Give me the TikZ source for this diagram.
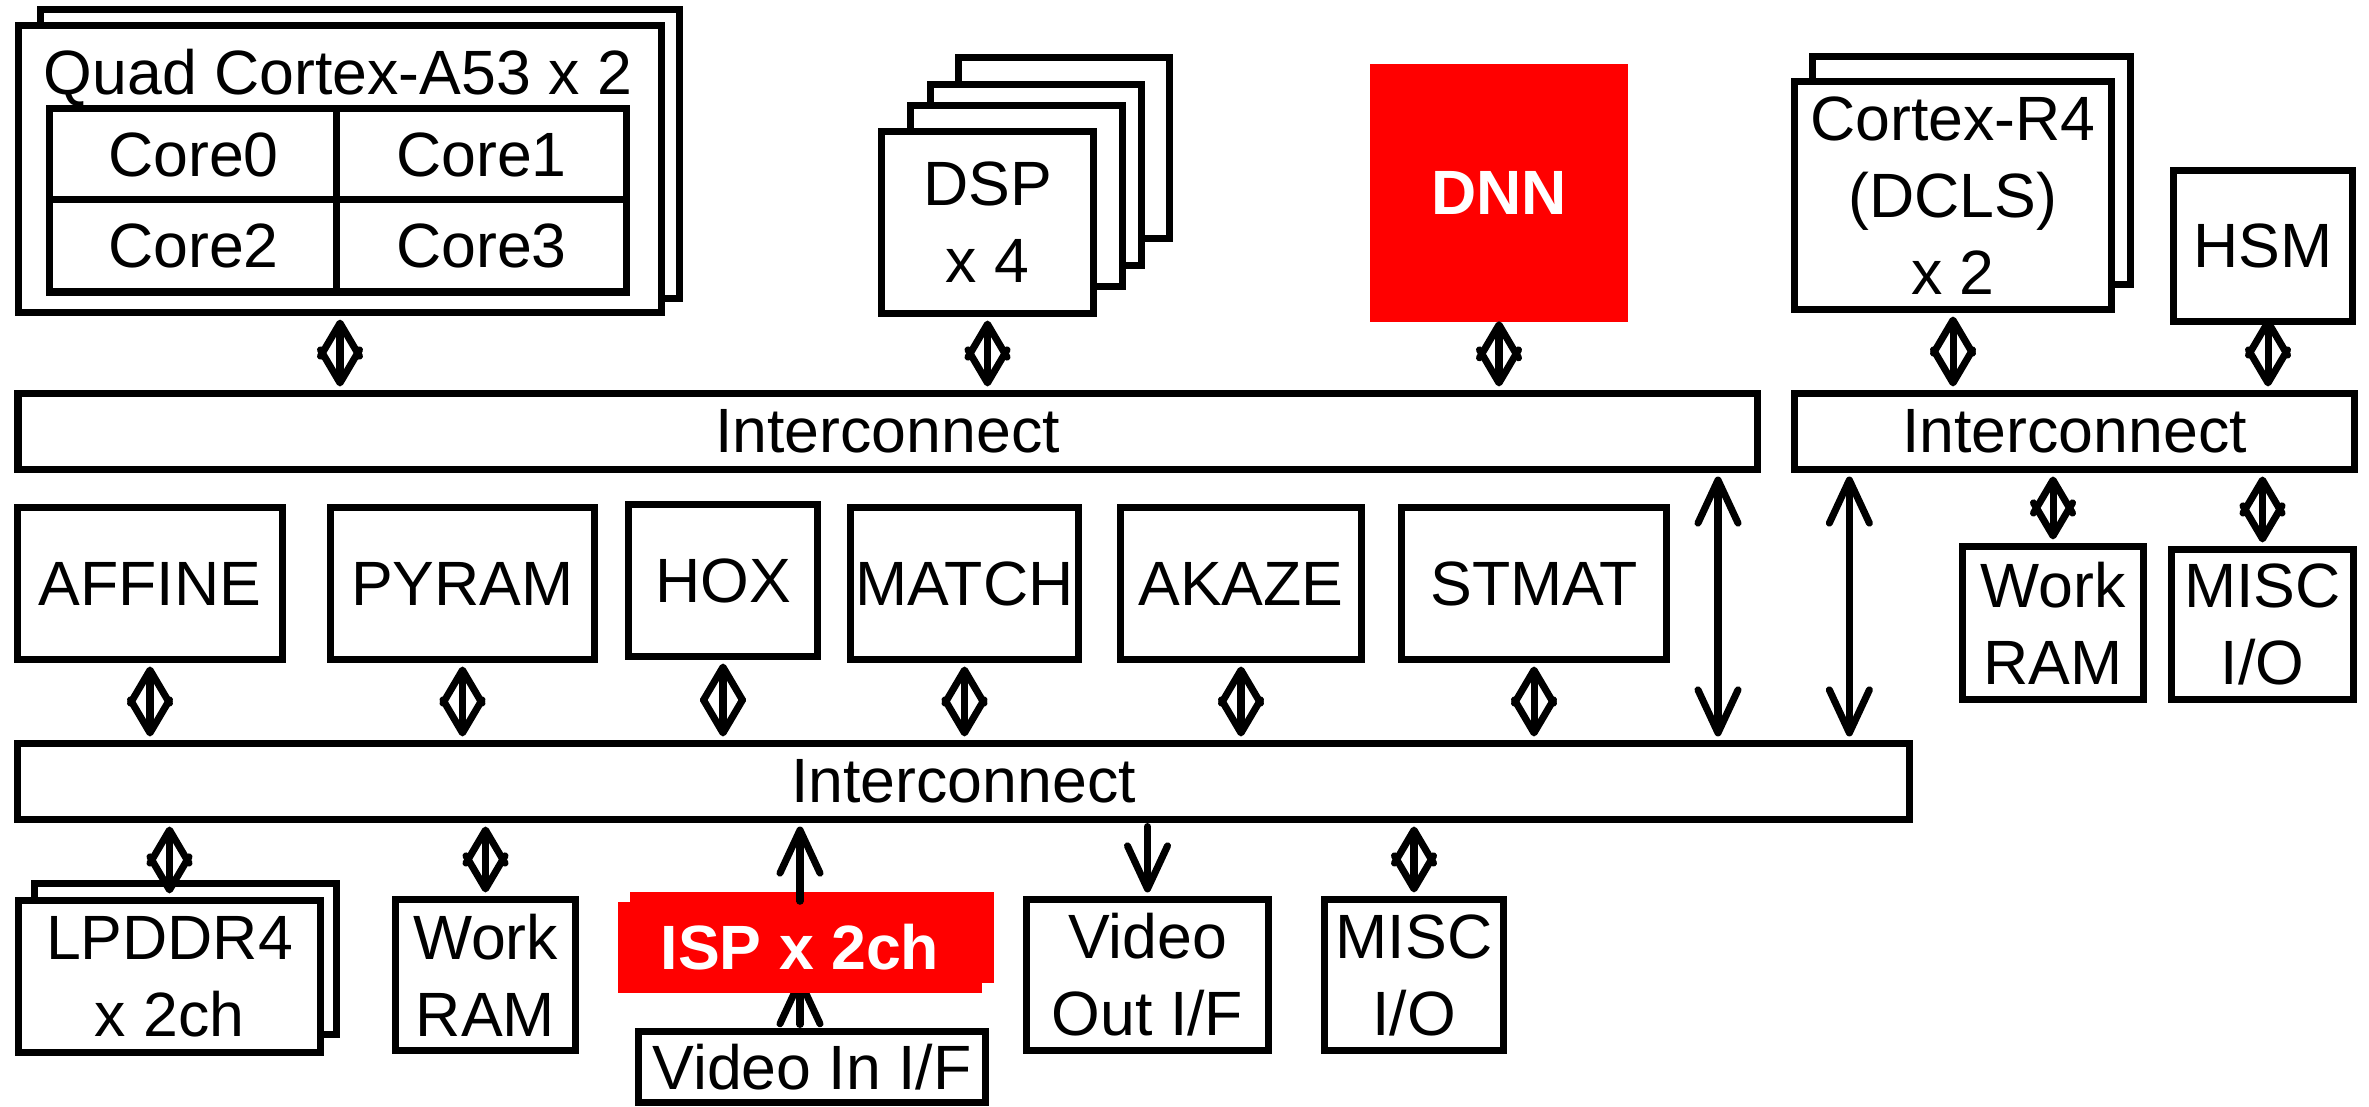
\documentclass[tikz,border=0pt]{standalone}
\usepackage{fontspec}
\setmainfont{Liberation Sans}
\usetikzlibrary{arrows.meta,calc}
\definecolor{accel}{RGB}{255,0,0}
\pgfdeclarelayer{under}
\pgfsetlayers{under,main}

% outlined block from its outer edges (x1,y1)-(x2,y2), in 0.01cm units
\newcommand\blk[6]{%
  \pgfmathsetmacro\bw{(#4-#2-7)/100}%
  \pgfmathsetmacro\bh{(#5-#3-7)/100}%
  \pgfmathsetmacro\bx{(#2+#4)/2}%
  \pgfmathsetmacro\by{(#3+#5)/2}%
  \node[box,minimum width=\bw cm,minimum height=\bh cm] (#1) at (\bx,\by) {#6};}
% solid red accelerator block
\newcommand\fillblk[6]{%
  \pgfmathsetmacro\bw{(#4-#2)/100}%
  \pgfmathsetmacro\bh{(#5-#3)/100}%
  \pgfmathsetmacro\bx{(#2+#4)/2}%
  \pgfmathsetmacro\by{(#3+#5)/2}%
  \node[hot,minimum width=\bw cm,minimum height=\bh cm] (#1) at (\bx,\by) {#6};}

\tikzset{
  dia/.tip={Straight Barb[length=0.33cm,width=0.39cm,round]},
  lng/.tip={Straight Barb[length=0.43cm,width=0.40cm,round]},
  lbl/.style={font=\fontsize{17.8}{21.9}\selectfont},
  box/.style={lbl, draw, line width=2pt, fill=white, inner sep=0pt, align=center},
  hot/.style={fill=accel, draw=none, inner sep=0pt, text=white,
              font=\fontsize{17.8}{21.9}\selectfont\bfseries},
  link/.style={line width=2pt, line cap=round, shorten <=1pt, shorten >=1pt},
  bus/.style={link, dia-dia},
  both/.style={link, lng-lng},
  one/.style={link, -lng},
}

\begin{document}
\begin{tikzpicture}[x=0.01cm, y=-0.01cm]
\useasboundingbox (0,0) rectangle (2369,1107);

% ---- application cores
\blk{apB}{37}{6}{683}{302}{}
\blk{ap}{15}{22}{665}{316}{}
\node[lbl, anchor=base] (apT) at (338,95) {Quad Cortex-A53 x 2};
\blk{c0}{46.5}{105.5}{340.5}{203.5}{Core0}
\blk{c1}{333.5}{105.5}{629.5}{203.5}{Core1}
\blk{c2}{46.5}{196.5}{340.5}{295.5}{Core2}
\blk{c3}{333.5}{196.5}{629.5}{295.5}{Core3}

% ---- DSP stack
\blk{dsp4}{955}{54}{1173}{242}{}
\blk{dsp3}{927}{81}{1145}{269}{}
\blk{dsp2}{907}{102}{1126}{290}{}
\blk{dsp}{878}{128}{1097}{317}{DSP\\x 4}

% ---- DNN accelerator
\fillblk{dnn}{1370}{64}{1628}{322}{DNN}

% ---- safety island
\blk{r4b}{1809}{53}{2134}{288}{}
\blk{r4}{1791}{78}{2115}{313}{Cortex-R4\\(DCLS)\\x 2}
\blk{hsm}{2170}{167}{2356}{325}{HSM}

% ---- interconnects
\blk{ic1}{15}{390}{1760}{473}{Interconnect}
\blk{ic2}{1791}{390}{2358}{473}{Interconnect}
\blk{ic3}{15}{740}{1912}{823}{Interconnect}

% ---- vision engines
\blk{affine}{14}{504}{286}{663}{AFFINE}
\blk{pyram}{327}{504}{598}{663}{PYRAM}
\blk{hox}{625}{501}{821}{660}{HOX}
\blk{match}{847}{504}{1082}{663}{MATCH}
\blk{akaze}{1117}{504}{1365}{663}{AKAZE}
\blk{stmat}{1398}{504}{1670}{663}{STMAT}

% ---- safety island peripherals
\blk{wram2}{1959}{543}{2147}{703}{Work\\RAM}
\blk{misc2}{2168}{546}{2357}{703}{MISC\\I/O}

% ---- memory and I/O
\blk{ddrB}{31}{880}{340}{1038}{}
\blk{ddr}{15}{897}{324}{1056}{LPDDR4\\x 2ch}
\blk{wram}{392}{896}{579}{1054}{Work\\RAM}
\fillblk{ispB}{630}{892}{994}{983}{}
\fillblk{isp}{618}{902}{982}{993}{ISP x 2ch}
\blk{vin}{635}{1028}{989}{1106}{Video In I/F}
\blk{vout}{1023}{896}{1272}{1054}{Video\\Out I/F}
\blk{misc}{1321}{896}{1507}{1054}{MISC\\I/O}

% ---- connections
\draw[bus] (ap.south) -- (ap.south |- ic1.north);
\draw[bus] (dsp.south) -- (dsp.south |- ic1.north);
\draw[bus] ([yshift=0.05cm]dnn.south) -- (dnn.south |- ic1.north);
\draw[bus] (r4.south) -- (r4.south |- ic2.north);
\draw[bus] ([xshift=0.05cm,yshift=0.1cm]hsm.south) -- ([xshift=0.05cm]hsm.south |- ic2.north);
\draw[bus] (ic2.south -| wram2.north) -- (wram2.north);
\draw[bus] (ic2.south -| misc2.north) -- (misc2.north);

\foreach \n in {affine,pyram,hox,match,akaze,stmat}
  \draw[bus] (\n.south) -- (\n.south |- ic3.north);

\draw[both] ([xshift=-0.425cm]ic1.south east) -- ([xshift=-0.425cm]ic1.south east |- ic3.north);
\draw[both] ([xshift=0.585cm]ic2.south west) -- ([xshift=0.585cm]ic2.south west |- ic3.north);

\draw[bus] (ic3.south -| ddr.north) -- (ddr.north);
\draw[bus] (ic3.south -| wram.north) -- (wram.north);
\draw[one, shorten <=0pt] (isp.north) -- (isp.north |- ic3.south);
\draw[one] (ic3.south -| vout.north) -- (vout.north);
\draw[bus] (ic3.south -| misc.north) -- (misc.north);

\begin{pgfonlayer}{under}
  \draw[one] (isp.south |- vin.north) -- ([yshift=0.2cm]isp.south);
\end{pgfonlayer}
\end{tikzpicture}
\end{document}
